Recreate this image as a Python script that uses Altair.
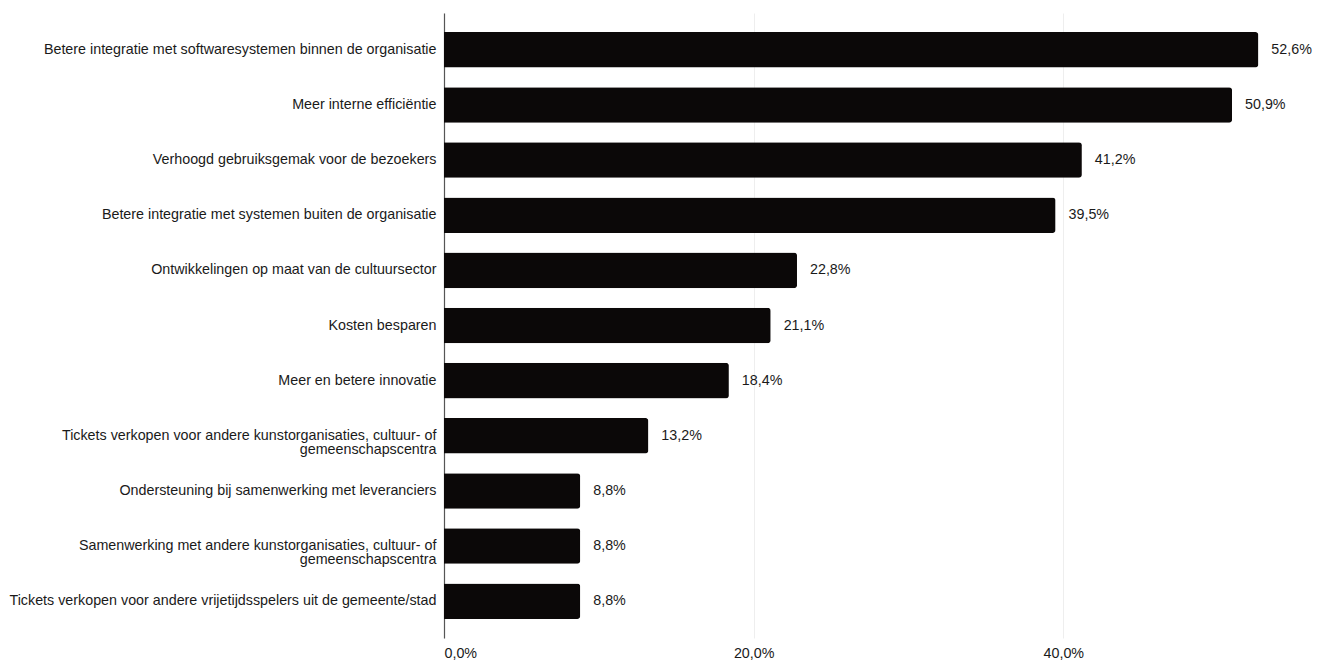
import altair as alt
import pandas as pd

categories = [
    "Betere integratie met softwaresystemen binnen de organisatie",
    "Meer interne efficiëntie",
    "Verhoogd gebruiksgemak voor de bezoekers",
    "Betere integratie met systemen buiten de organisatie",
    "Ontwikkelingen op maat van de cultuursector",
    "Kosten besparen",
    "Meer en betere innovatie",
    "Tickets verkopen voor andere kunstorganisaties, cultuur- of|gemeenschapscentra",
    "Ondersteuning bij samenwerking met leveranciers",
    "Samenwerking met andere kunstorganisaties, cultuur- of|gemeenschapscentra",
    "Tickets verkopen voor andere vrijetijdsspelers uit de gemeente/stad",
]
values = [52.6, 50.9, 41.2, 39.5, 22.8, 21.1, 18.4, 13.2, 8.8, 8.8, 8.8]
x_ticks = [0, 20, 40]

df = pd.DataFrame({"cat": categories, "val": values})

FONT = "Liberation Sans"
FS = 14.3

y_enc = alt.Y(
    "cat:N",
    sort=categories,
    title=None,
    scale=alt.Scale(paddingInner=0.355, paddingOuter=0.345),
    axis=alt.Axis(
        labelExpr="split(datum.label, '|')",
        labelFont=FONT,
        labelFontSize=FS,
        labelColor="#1a1a1a",
        labelLimit=600,
        labelPadding=8,
        ticks=False,
        domain=True,
        domainColor="#555555",
        domainWidth=1.2,
        grid=False,
        labelLineHeight=14,
    ),
)

x_enc = alt.X(
    "val:Q",
    title=None,
    scale=alt.Scale(domain=[0, 56], nice=False),
    axis=alt.Axis(
        values=x_ticks,
        labelExpr="replace(format(datum.value, '.1f'), '.', ',') + '%'",
        labelFont=FONT,
        labelFontSize=FS,
        labelColor="#1a1a1a",
        labelPadding=8,
        ticks=False,
        domain=False,
        grid=True,
        gridColor="#eeeeee",
        gridWidth=1,
    ),
)

bars = alt.Chart(df).mark_bar(color="#0b0808", cornerRadiusEnd=3).encode(
    x=x_enc, y=y_enc
)

texts = alt.Chart(df).mark_text(
    align="left", baseline="middle", dx=13, font=FONT, fontSize=FS, color="#1a1a1a"
).transform_calculate(
    lbl="replace(format(datum.val, '.1f'), '.', ',') + '%'"
).encode(
    x="val:Q", y=alt.Y("cat:N", sort=categories), text="lbl:N"
)

chart = (
    alt.layer(bars, texts)
    .properties(
        width=867,
        height=625,
        background="white",
        padding={"left": 0, "top": 5, "right": 5, "bottom": 5},
    )
    .configure_view(strokeWidth=0, stroke="transparent")
)

chart.save("out.html", embed_options={"renderer": "svg", "actions": False})
